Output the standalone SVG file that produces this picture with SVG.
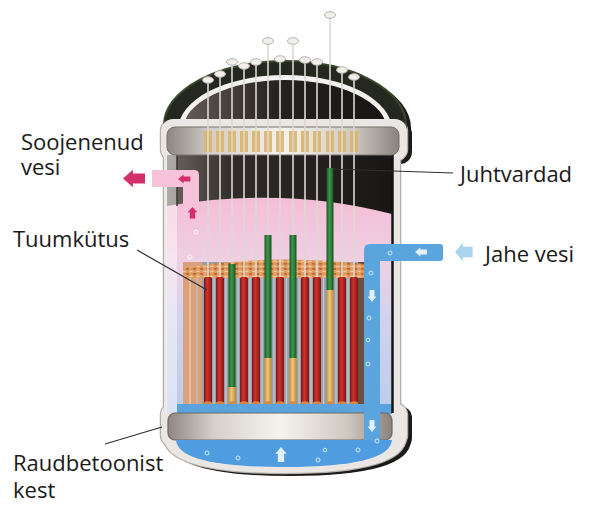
<svg xmlns="http://www.w3.org/2000/svg" xmlns:xlink="http://www.w3.org/1999/xlink" width="600" height="522" viewBox="0 0 600 522">
<style>
.lbl{font-family:"Open Sans","Noto Sans","DejaVu Sans",sans-serif;font-size:22px;fill:#1a1a1a}
.lead{stroke:#2e2e2e;stroke-width:1.2;fill:none}
.rodline{stroke:#ddd8d3;stroke-width:1.6}
.cap{fill:#f1eeeb;stroke:#b9b2ac;stroke-width:1}
.bub{fill:none;stroke:#d9eefc;stroke-width:0.9}
.bubp{fill:none;stroke:#ffffff;stroke-width:0.9;opacity:0.8}
.gap{stroke:#c4ccd3;stroke-width:1.2}
</style>
<defs>
<path id="sDome" d="M164,132 L164,125 A121,64 0 0 1 406,125 L406,132 Z"/>
<rect id="sTop" x="161" y="119" width="246" height="42" rx="12"/>
<rect id="sBody" x="164" y="150" width="236" height="260"/>
<rect id="sBot" x="161" y="403" width="246" height="44" rx="12"/>
<path id="sBowl" d="M164,438 Q166,473 285,473 Q404,473 406,438 Z"/>
<path id="arr" d="M0,0 L9,-8 L9,-4.5 L20,-4.5 L20,4.5 L9,4.5 L9,8 Z"/>
<linearGradient id="gDark" x1="0" y1="0" x2="1" y2="0">
<stop offset="0" stop-color="#6e655e"/><stop offset="0.3" stop-color="#302b28"/><stop offset="1" stop-color="#181716"/>
</linearGradient>
<linearGradient id="gDomeIn" x1="0" y1="0" x2="1" y2="0">
<stop offset="0" stop-color="#655c55"/><stop offset="0.45" stop-color="#262321"/><stop offset="1" stop-color="#151514"/>
</linearGradient>
<linearGradient id="gWater" gradientUnits="userSpaceOnUse" x1="0" y1="195" x2="0" y2="410">
<stop offset="0" stop-color="#f4bdd5"/><stop offset="0.3" stop-color="#efcfe3"/><stop offset="0.55" stop-color="#d4d2ee"/><stop offset="1" stop-color="#bccde8"/>
</linearGradient>
<linearGradient id="gFlange" x1="0" y1="0" x2="1" y2="0">
<stop offset="0" stop-color="#8d8780"/><stop offset="0.2" stop-color="#d4cfc9"/><stop offset="0.5" stop-color="#f6f3ee"/><stop offset="0.8" stop-color="#cfc9c2"/><stop offset="1" stop-color="#8a847e"/>
</linearGradient>
<linearGradient id="gRed" x1="0" y1="0" x2="1" y2="0">
<stop offset="0" stop-color="#7a1414"/><stop offset="0.4" stop-color="#d0342c"/><stop offset="1" stop-color="#801616"/>
</linearGradient>
<linearGradient id="gGreen" x1="0" y1="0" x2="1" y2="0">
<stop offset="0" stop-color="#1c5527"/><stop offset="0.45" stop-color="#3d9a4a"/><stop offset="1" stop-color="#1a5024"/>
</linearGradient>
<linearGradient id="gYel" x1="0" y1="0" x2="1" y2="0">
<stop offset="0" stop-color="#c98f3a"/><stop offset="0.45" stop-color="#f2c878"/><stop offset="1" stop-color="#c08838"/>
</linearGradient>
<pattern id="peb" patternUnits="userSpaceOnUse" width="7" height="5">
<rect width="7" height="5" fill="#de9a60"/>
<ellipse cx="2" cy="1.4" rx="1.8" ry="0.9" fill="#f6c895"/>
<ellipse cx="5.5" cy="3.8" rx="1.8" ry="0.9" fill="#b8622c"/>
</pattern>
</defs>

<g id="shell">
<g transform="translate(5,3)" fill="#1b1b1b">
<use xlink:href="#sDome"/><use xlink:href="#sTop"/><use xlink:href="#sBot"/><use xlink:href="#sBowl"/>
</g>
<g fill="none" stroke="#b3aea9" stroke-width="2.5">
<use xlink:href="#sTop"/><use xlink:href="#sBody"/><use xlink:href="#sBot"/><use xlink:href="#sBowl"/>
</g>
<use xlink:href="#sDome" fill="#25281f" stroke="#3b4a2f" stroke-width="2"/>
<path d="M178,130 A107,55 0 0 1 392,130 Z" fill="#f4f2ef"/>
<path d="M183,130 A102,50 0 0 1 387,130 Z" fill="url(#gDomeIn)"/>
<g fill="#e9e6e3">
<use xlink:href="#sTop"/><use xlink:href="#sBody"/><use xlink:href="#sBot"/><use xlink:href="#sBowl"/>
</g>
</g>

<g id="interior">
<rect x="167" y="155" width="225" height="60" fill="url(#gDark)"/>
<path d="M167,206 Q285,186 392,214 L392,413 L167,413 Z" fill="url(#gWater)"/>
<rect x="166" y="155" width="11" height="258" fill="#ffffff" opacity="0.45"/>
<line x1="177" y1="155" x2="177" y2="206" stroke="#3a3532" stroke-width="1.5"/>
</g>

<g id="core">
<rect x="183" y="262" width="197" height="143" fill="#97a0a8"/>
<rect x="183" y="262" width="19" height="143" fill="#d9a27c"/>
<line x1="190" y1="270" x2="190" y2="404" stroke="#efc6a5" stroke-width="1.5"/>
<line x1="197" y1="270" x2="197" y2="404" stroke="#b9c3cc" stroke-width="1.2"/>
<rect x="358" y="262" width="6" height="143" fill="#6b4f40"/>
<g class="gap">
<line x1="214" y1="278" x2="214" y2="404"/><line x1="226" y1="278" x2="226" y2="404"/><line x1="238" y1="278" x2="238" y2="404"/><line x1="250" y1="278" x2="250" y2="404"/><line x1="262" y1="278" x2="262" y2="404"/><line x1="274" y1="278" x2="274" y2="404"/><line x1="286.5" y1="278" x2="286.5" y2="404"/><line x1="299" y1="278" x2="299" y2="404"/><line x1="311" y1="278" x2="311" y2="404"/><line x1="323.5" y1="278" x2="323.5" y2="404"/><line x1="336" y1="278" x2="336" y2="404"/><line x1="348" y1="278" x2="348" y2="404"/>
</g>
<path d="M183,268 Q280,252 380,266 L380,278 L183,278 Z" fill="url(#peb)"/>
<g id="fuel-rods" fill="url(#gRed)">
<rect x="204" y="277" width="8" height="127" rx="2"/>
<rect x="216" y="277" width="8" height="127" rx="2"/>
<rect x="240" y="277" width="8" height="127" rx="2"/>
<rect x="252" y="277" width="8" height="127" rx="2"/>
<rect x="276" y="277" width="8" height="127" rx="2"/>
<rect x="301" y="277" width="8" height="127" rx="2"/>
<rect x="313" y="277" width="8" height="127" rx="2"/>
<rect x="338" y="277" width="8" height="127" rx="2"/>
<rect x="350" y="277" width="8" height="127" rx="2"/>
</g>
<g id="control-rods">
<rect x="228.5" y="264" width="7" height="123" fill="url(#gGreen)"/>
<rect x="228.5" y="387" width="7" height="17" fill="url(#gYel)"/>
<rect x="264.5" y="235" width="7" height="123" fill="url(#gGreen)"/>
<rect x="264.5" y="358" width="7" height="46" fill="url(#gYel)"/>
<rect x="289.5" y="235" width="7" height="123" fill="url(#gGreen)"/>
<rect x="289.5" y="358" width="7" height="46" fill="url(#gYel)"/>
<rect x="326.5" y="168" width="7" height="122" fill="url(#gGreen)"/>
<rect x="326.5" y="290" width="7" height="114" fill="url(#gYel)"/>
</g>
<g fill="#d9873f">
<ellipse cx="208" cy="403" rx="4" ry="1.8"/><ellipse cx="220" cy="403" rx="4" ry="1.8"/><ellipse cx="232" cy="403" rx="3.5" ry="1.8"/><ellipse cx="244" cy="403" rx="4" ry="1.8"/><ellipse cx="256" cy="403" rx="4" ry="1.8"/><ellipse cx="268" cy="403" rx="3.5" ry="1.8"/><ellipse cx="280" cy="403" rx="4" ry="1.8"/><ellipse cx="293" cy="403" rx="3.5" ry="1.8"/><ellipse cx="305" cy="403" rx="4" ry="1.8"/><ellipse cx="317" cy="403" rx="4" ry="1.8"/><ellipse cx="330" cy="403" rx="3.5" ry="1.8"/><ellipse cx="342" cy="403" rx="4" ry="1.8"/><ellipse cx="354" cy="403" rx="4" ry="1.8"/>
</g>
<rect x="177" y="404" width="215" height="10" fill="#5aa3dc"/>
<line x1="392.5" y1="155" x2="392.5" y2="413" stroke="#151515" stroke-width="2.5"/>
</g>

<g id="top-flange">
<rect x="167" y="127" width="232" height="28" rx="8" fill="url(#gFlange)" stroke="#77726d" stroke-width="1"/>
<g fill="#dcb56b" opacity="0.9">
<rect x="204" y="131" width="8" height="21"/><rect x="216" y="131" width="8" height="21"/><rect x="228" y="131" width="8" height="21"/><rect x="240" y="131" width="8" height="21"/><rect x="252" y="131" width="8" height="21"/><rect x="264" y="131" width="8" height="21"/><rect x="276" y="131" width="8" height="21"/><rect x="289" y="131" width="8" height="21"/><rect x="301" y="131" width="8" height="21"/><rect x="313" y="131" width="8" height="21"/><rect x="326" y="131" width="8" height="21"/><rect x="338" y="131" width="8" height="21"/><rect x="350" y="131" width="8" height="21"/>
</g>
</g>

<g id="bottom">
<rect x="168" y="413" width="224" height="27" rx="7" fill="url(#gFlange)" stroke="#6d6862" stroke-width="1.2"/>
<path d="M176,440 L392,440 Q390,467 284,467 Q178,467 176,440 Z" fill="#4f9de0"/>
</g>

<g id="pipes">
<path d="M152,170 L194,170 Q199,170 199,175 L199,222 L183,222 L183,187 L152,187 Z" fill="#f7c3da"/>
<path d="M364,440 L364,250 Q364,244 370,244 L440,244 Q443,244 443,247 L443,258 Q443,261 440,261 L380,261 L380,440 Z" fill="#5aa5dd"/>
</g>

<g id="rod-lines" class="rodline">
<line x1="208" y1="80" x2="208" y2="277"/><line x1="220" y1="74" x2="220" y2="277"/><line x1="232" y1="62" x2="232" y2="264"/><line x1="244" y1="66" x2="244" y2="277"/><line x1="256" y1="62" x2="256" y2="277"/><line x1="268" y1="41" x2="268" y2="235"/><line x1="280" y1="59" x2="280" y2="277"/><line x1="293" y1="41" x2="293" y2="235"/><line x1="305" y1="60" x2="305" y2="277"/><line x1="317" y1="62" x2="317" y2="277"/><line x1="330" y1="15" x2="330" y2="168"/><line x1="342" y1="70" x2="342" y2="277"/><line x1="354" y1="77" x2="354" y2="277"/>
</g>
<g id="rod-caps" class="cap">
<ellipse cx="208" cy="80" rx="5.5" ry="3.3"/><ellipse cx="220" cy="74" rx="5.5" ry="3.3"/><ellipse cx="232" cy="62" rx="5.5" ry="3.3"/><ellipse cx="244" cy="66" rx="5.5" ry="3.3"/><ellipse cx="256" cy="62" rx="5.5" ry="3.3"/><ellipse cx="268" cy="41" rx="5.5" ry="3.3"/><ellipse cx="280" cy="59" rx="5.5" ry="3.3"/><ellipse cx="293" cy="41" rx="5.5" ry="3.3"/><ellipse cx="305" cy="60" rx="5.5" ry="3.3"/><ellipse cx="317" cy="62" rx="5.5" ry="3.3"/><ellipse cx="330" cy="15" rx="5.5" ry="3.3"/><ellipse cx="342" cy="70" rx="5.5" ry="3.3"/><ellipse cx="354" cy="77" rx="5.5" ry="3.3"/>
</g>

<g id="arrows">
<use xlink:href="#arr" fill="#d3306a" transform="translate(123,178.5) scale(1.1)"/>
<use xlink:href="#arr" fill="#d3306a" transform="translate(178,179) scale(0.62,0.55)"/>
<use xlink:href="#arr" fill="#d3306a" transform="translate(192.5,207) rotate(90) scale(0.58,0.6)"/>
<use xlink:href="#arr" fill="#a9d4ee" transform="translate(455,252) scale(0.88,1.15)"/>
<use xlink:href="#arr" fill="#e3f1fb" transform="translate(415,252) scale(0.6,0.55)"/>
<use xlink:href="#arr" fill="#e3f1fb" transform="translate(372,302) rotate(-90) scale(0.6,0.55)"/>
<use xlink:href="#arr" fill="#e3f1fb" transform="translate(372,432) rotate(-90) scale(0.6,0.55)"/>
<use xlink:href="#arr" fill="#e3f1fb" transform="translate(281,447) rotate(90) scale(0.75,0.7)"/>
</g>

<g id="bubbles">
<circle class="bub" cx="390" cy="253" r="2"/><circle class="bub" cx="371" cy="273" r="2"/><circle class="bub" cx="369" cy="318" r="2"/><circle class="bub" cx="368" cy="340" r="1.8"/><circle class="bub" cx="368" cy="364" r="2"/><circle class="bub" cx="377" cy="441" r="2"/>
<circle class="bub" cx="207" cy="453" r="2"/><circle class="bub" cx="238" cy="458" r="2"/><circle class="bub" cx="318" cy="460" r="2"/><circle class="bub" cx="325" cy="450" r="1.8"/><circle class="bub" cx="358" cy="450" r="2"/>
<circle class="bubp" cx="196" cy="232" r="2"/><circle class="bubp" cx="190" cy="257" r="2"/>
</g>

<g id="labels">
<line class="lead" x1="137" y1="250" x2="207" y2="290"/>
<line class="lead" x1="333" y1="169" x2="453" y2="173"/>
<line class="lead" x1="105" y1="444" x2="162" y2="427"/>
<text class="lbl" x="21" y="150">Soojenenud</text>
<text class="lbl" x="21" y="175">vesi</text>
<text class="lbl" x="13" y="247">Tuumkütus</text>
<text class="lbl" x="460" y="182">Juhtvardad</text>
<text class="lbl" x="485" y="262">Jahe vesi</text>
<text class="lbl" x="13" y="471">Raudbetoonist</text>
<text class="lbl" x="13" y="498">kest</text>
</g>
</svg>
